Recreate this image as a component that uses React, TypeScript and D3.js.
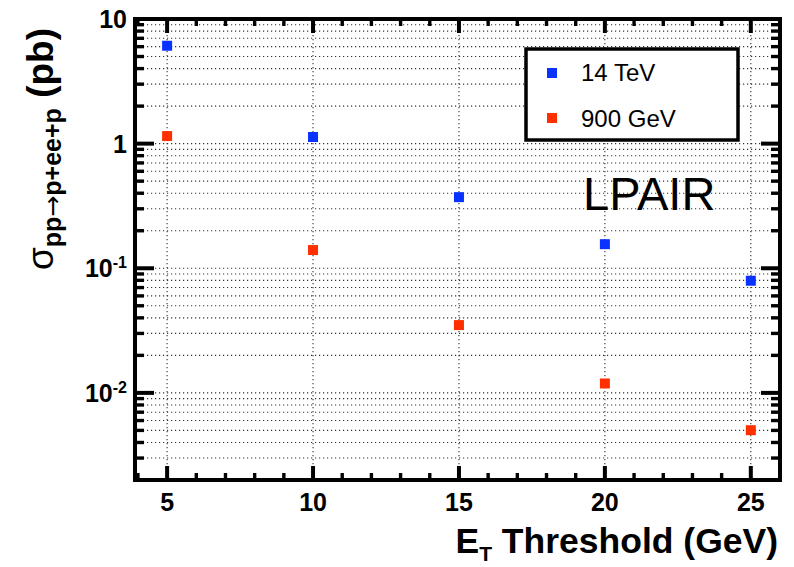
import React from "react";
import * as d3 from "d3";

const energies = [5, 10, 15, 20, 25];
const sigma14TeV = [6.1, 1.13, 0.372, 0.156, 0.0794];
const sigma900GeV = [1.15, 0.14, 0.035, 0.0119, 0.00502];
const seriesNames = ["14 TeV", "900 GeV"];
const seriesColors = ["#0a32ff", "#ff3000"];
const xMajorTicks = [5, 10, 15, 20, 25];
const yMajorTicks = [0.01, 0.1, 1, 10];
const yMajorLabels = [["10", "-2"], ["10", "-1"], ["1", ""], ["10", ""]];

const W = 794, H = 567;
const L = 135, R = 780, T = 19, B = 480;
const FONT = "'Liberation Sans', Arial, Helvetica, sans-serif";

export default function App() {
  const x = d3.scaleLinear().domain([3.9, 26.0]).range([L, R]);
  const y = d3.scaleLog().domain([0.002, 10]).range([B, T]);

  const yMinor: number[] = [];
  for (let e = -3; e <= 1; e++) {
    for (let k = 1; k <= 9; k++) {
      const v = k * Math.pow(10, e);
      if (v >= 0.002 * 0.999 && v <= 10 * 1.001) yMinor.push(v);
    }
  }
  const isMajorY = (v: number) => yMajorTicks.some((m) => Math.abs(m - v) / m < 1e-6);
  const xMinor = d3.range(4, 27).filter((v) => v >= 3.9 && v <= 26);

  const series = [sigma14TeV, sigma900GeV];
  const sq = 10;

  return (
    <svg width={W} height={H} style={{ position: "absolute", left: 0, top: 0, background: "#fff" }} fontFamily={FONT}>
      <rect x={0} y={0} width={W} height={H} fill="#fff" />
      {/* grid */}
      <g stroke="#333" strokeWidth={1.1} strokeDasharray="1.2 2.8">
        {yMinor.map((v, i) => (
          <line key={"gy" + i} x1={L} x2={R} y1={y(v)} y2={y(v)} />
        ))}
        {xMajorTicks.map((v) => (
          <line key={"gx" + v} x1={x(v)} x2={x(v)} y1={T} y2={B} />
        ))}
      </g>
      {/* ticks */}
      <g stroke="#000">
        {yMinor.map((v, i) => {
          const len = isMajorY(v) ? 19 : 9;
          const w = isMajorY(v) ? 4 : 3.4;
          return (
            <g key={"ty" + i} strokeWidth={w}>
              <line x1={L} x2={L + len} y1={y(v)} y2={y(v)} />
              <line x1={R} x2={R - len} y1={y(v)} y2={y(v)} />
            </g>
          );
        })}
        {xMinor.map((v) => {
          const maj = v % 5 === 0;
          const len = maj ? 14 : 7;
          const w = maj ? 4 : 3.4;
          return (
            <g key={"tx" + v} strokeWidth={w}>
              <line x1={x(v)} x2={x(v)} y1={B} y2={B - len} />
              <line x1={x(v)} x2={x(v)} y1={T} y2={T + len} />
            </g>
          );
        })}
      </g>
      {/* frame */}
      <rect x={L} y={T} width={R - L} height={B - T} fill="none" stroke="#000" strokeWidth={4} />
      {/* y tick labels */}
      {yMajorTicks.map((v, i) => (
        <text key={"yl" + i} x={127} y={y(v) + 9} textAnchor="end" fontSize={25} fontWeight="bold">
          {yMajorLabels[i][0]}
          {yMajorLabels[i][1] ? (
            <tspan fontSize={16} dy={-9}>{yMajorLabels[i][1]}</tspan>
          ) : null}
        </text>
      ))}
      {/* x tick labels */}
      {xMajorTicks.map((v) => (
        <text key={"xl" + v} x={x(v)} y={511} textAnchor="middle" fontSize={25} fontWeight="bold">
          {v}
        </text>
      ))}
      {/* x axis title */}
      <text x={778} y={553} textAnchor="end" fontSize={35.5} fontWeight="bold">
        E<tspan fontSize={21} dy={8}>T</tspan>
        <tspan dy={-8}> Threshold (GeV)</tspan>
      </text>
      {/* y axis title */}
      <text transform={`translate(53,149) rotate(-90)`} textAnchor="middle" fontSize={37} fontWeight="bold">
        <tspan fontWeight="normal">σ</tspan>
        <tspan fontSize={25} dy={8}>pp</tspan>
        <tspan fontSize={25} fontWeight="normal" fontFamily="'DejaVu Sans', sans-serif">→</tspan>
        <tspan fontSize={25}>p+ee+p</tspan>
        <tspan dy={-8}> (pb)</tspan>
      </text>
      {/* data */}
      {series.map((s, si) => (
        <g key={"s" + si} fill={seriesColors[si]}>
          {s.map((v, i) => (
            <rect key={i} x={x(energies[i]) - sq / 2} y={y(v) - sq / 2} width={sq} height={sq} />
          ))}
        </g>
      ))}
      {/* legend */}
      <rect x={526} y={49} width={212} height={91} fill="#fff" stroke="#000" strokeWidth={3.5} />
      {seriesNames.map((n, i) => (
        <g key={"lg" + i}>
          <rect x={552 - 5} y={[73, 118][i] - 5} width={10} height={10} fill={seriesColors[i]} />
          <text x={581} y={[81, 127][i]} fontSize={24}>{n}</text>
        </g>
      ))}
      <text x={583} y={210} fontSize={47}>LPAIR</text>
    </svg>
  );
}
